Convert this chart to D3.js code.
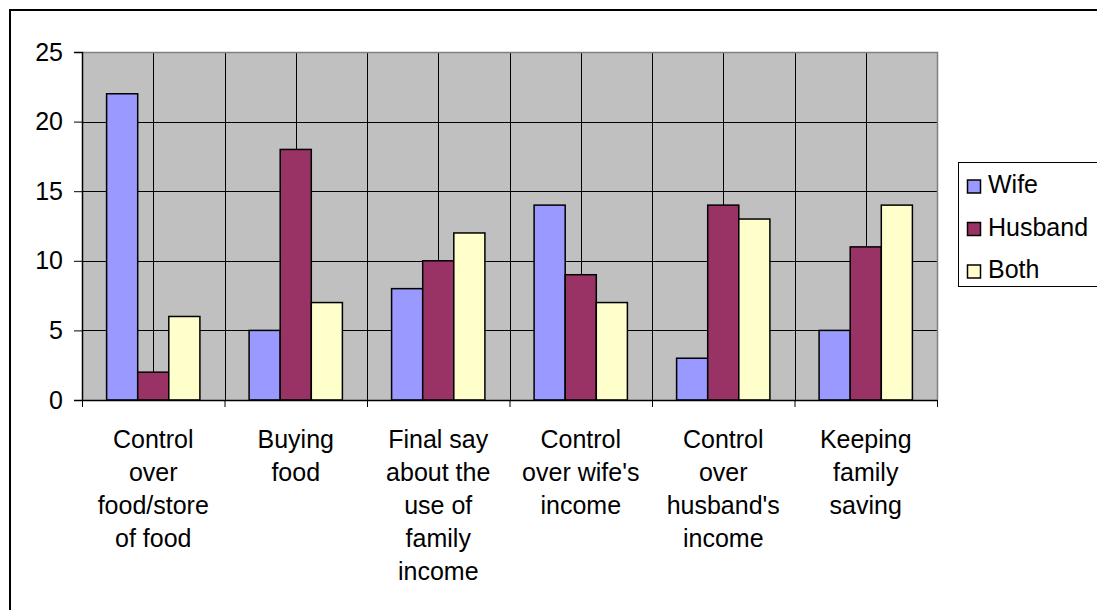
<!DOCTYPE html>
<html><head><meta charset="utf-8">
<script src="https://cdn.jsdelivr.net/npm/d3@7"></script>
<style>body{margin:0;background:#fff}svg{display:block;font-family:"Liberation Sans",Arial,sans-serif}</style>
</head><body>
<svg id="c" width="1097" height="610"></svg>
<script>
const categories = [
  ["Control","over","food/store","of food"],
  ["Buying","food"],
  ["Final say","about the","use of","family","income"],
  ["Control","over wife's","income"],
  ["Control","over","husband's","income"],
  ["Keeping","family","saving"]
];
const seriesNames = ["Wife","Husband","Both"];
const wife =    [22, 5, 8, 14, 3, 5];
const husband = [2, 18, 10, 9, 14, 11];
const both =    [6, 7, 12, 7, 13, 14];
const yTicks = [0,5,10,15,20,25];
const colors = ["#9999FF","#993366","#FFFFCC"];

const values = [wife, husband, both];
const svg = d3.select("#c");
const L=82, R=937, T=52, B=400;
const fs = 25;

// outer frame (left/top visible)
svg.append("line").attr("x1",10).attr("x2",10).attr("y1",9).attr("y2",610).attr("stroke","#000").attr("stroke-width",2);
svg.append("line").attr("x1",9).attr("x2",1097).attr("y1",10).attr("y2",10).attr("stroke","#000").attr("stroke-width",2);

const x0 = d3.scaleBand().domain(d3.range(categories.length)).range([L,R]).padding(0);
const bw = x0.bandwidth();
const x1 = d3.scaleBand().domain(d3.range(3)).range([24.6, bw-24.6]).padding(0);
const y = d3.scaleLinear().domain([0,25]).range([B,T]);

svg.append("rect").attr("x",L).attr("y",T).attr("width",R-L).attr("height",B-T).attr("fill","#C0C0C0");

// horizontal gridlines
svg.append("g").selectAll("line").data(yTicks.filter(t=>t>0&&t<25)).join("line")
  .attr("x1",L).attr("x2",R).attr("y1",d=>Math.round(y(d))+0.5).attr("y2",d=>Math.round(y(d))+0.5)
  .attr("stroke","#000").attr("stroke-width",1);
// vertical gridlines at half-category steps
const vlines = [];
for(let i=0;i<categories.length;i++){ vlines.push(x0(i)+bw/2); if(i>0) vlines.push(x0(i)); }
svg.append("g").selectAll("line").data(vlines).join("line")
  .attr("x1",d=>Math.round(d)+0.5).attr("x2",d=>Math.round(d)+0.5).attr("y1",T).attr("y2",B)
  .attr("stroke","#000").attr("stroke-width",1);
// plot border top/right gray
svg.append("path").attr("d",`M${L},${T+0.5}H${R+0.5}V${B}`).attr("fill","none").attr("stroke","#808080").attr("stroke-width",1.5);

// bars
const g = svg.append("g");
values.forEach((arr,s)=>{
  g.selectAll(null).data(arr).join("rect")
    .attr("x",(d,i)=>x0(i)+x1(s))
    .attr("y",d=>y(d))
    .attr("width",x1.bandwidth())
    .attr("height",d=>B-y(d))
    .attr("fill",colors[s]).attr("stroke","#000").attr("stroke-width",1.5);
});

// y axis
const ya = d3.axisLeft(y).tickValues(yTicks).tickSize(8).tickPadding(11).tickFormat(d3.format("d"));
const yg = svg.append("g").attr("transform",`translate(${L},0)`).call(ya);
yg.select(".domain").attr("stroke","#000").attr("stroke-width",1.5);
yg.selectAll(".tick line").attr("stroke","#000");
yg.selectAll(".tick text").attr("font-size",fs).attr("font-family","Liberation Sans, Arial, sans-serif").attr("fill","#000");

// x axis
const xb = d3.scaleLinear().domain([0,categories.length]).range([L,R]);
const xa = d3.axisBottom(xb).tickValues(d3.range(categories.length+1)).tickSize(7).tickFormat("");
const xg = svg.append("g").attr("transform",`translate(0,${B})`).call(xa);
xg.select(".domain").attr("stroke","#000").attr("stroke-width",1.5).attr("d",`M${L},0.5H${R}`);
xg.selectAll(".tick line").attr("stroke","#000");

// category labels
const lab = svg.append("g").attr("font-size",fs).attr("text-anchor","middle").attr("fill","#000");
categories.forEach((lines,i)=>{
  const t = lab.append("text").attr("x",x0(i)+bw/2).attr("y",448);
  lines.forEach((ln,k)=>t.append("tspan").attr("x",x0(i)+bw/2).attr("y",448+k*33).text(ln));
});

// legend
const lg = svg.append("g");
lg.append("rect").attr("x",958.5).attr("y",162.5).attr("width",150).attr("height",124).attr("fill","#fff").attr("stroke","#000").attr("stroke-width",1);
seriesNames.forEach((n,i)=>{
  const by = 193 + i*42.5;
  lg.append("rect").attr("x",967.5).attr("y",by-13).attr("width",13).attr("height",13).attr("fill",colors[i]).attr("stroke","#000").attr("stroke-width",1.5);
  lg.append("text").attr("x",988).attr("y",by).attr("font-size",fs).attr("fill","#000").text(n);
});
</script>
</body></html>
